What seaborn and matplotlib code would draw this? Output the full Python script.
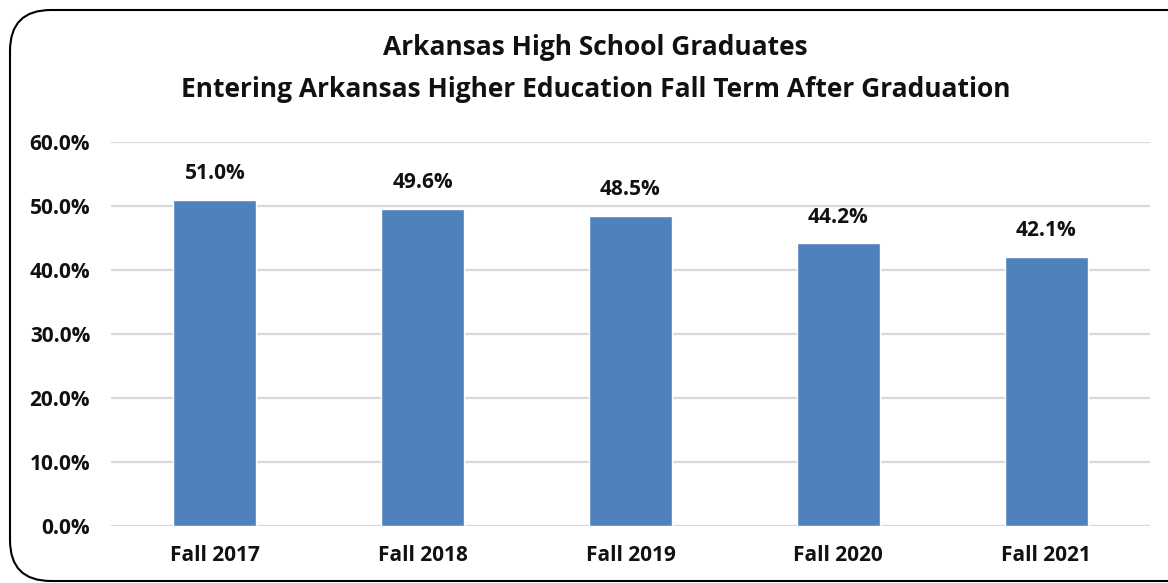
import matplotlib.pyplot as plt
import seaborn as sns
from matplotlib.patches import FancyBboxPatch
from matplotlib.ticker import FuncFormatter

# ---- data ----
terms = ["Fall 2017", "Fall 2018", "Fall 2019", "Fall 2020", "Fall 2021"]
rates = [51.0, 49.6, 48.5, 44.2, 42.1]
yticks = [0, 10, 20, 30, 40, 50, 60]

BAR_COLOR = "#4F81BD"
GRID_COLOR = "#D9D9D9"
TEXT = "#111111"

sns.set_theme(style="white")
plt.rcParams["font.family"] = ["Open Sans", "DejaVu Sans"]

fig = plt.figure(figsize=(11.68, 5.83), dpi=100)
ax = fig.add_axes([0.095, 0.0978, 0.8896, 0.6586])

sns.barplot(x=terms, y=rates, color=BAR_COLOR, width=0.4, saturation=1, ax=ax, zorder=3)

ax.set_ylim(0, 60)
ax.set_xlim(-0.5, 4.5)
ax.set_yticks(yticks)
ax.yaxis.set_major_formatter(FuncFormatter(lambda v, _: f"{v:.1f}%"))
ax.grid(axis="y", color=GRID_COLOR, linewidth=1.6, zorder=0)
ax.set_axisbelow(True)
for s in ax.spines.values():
    s.set_visible(False)
ax.tick_params(axis="y", length=0, pad=15, labelsize=15)
ax.tick_params(axis="x", length=0, pad=14, labelsize=15)
for lab in ax.get_xticklabels() + ax.get_yticklabels():
    lab.set_fontweight("bold")
    lab.set_color(TEXT)
ax.set_xlabel("")
ax.set_ylabel("")

for i, v in enumerate(rates):
    ax.text(i, v + 2.4, f"{v:.1f}%", ha="center", va="bottom",
            fontsize=15, fontweight="bold", color=TEXT)

fig.text(0.51, 0.918, "Arkansas High School Graduates", ha="center", va="center",
         fontsize=19, fontweight="bold", color=TEXT)
fig.text(0.51, 0.846, "Entering Arkansas Higher Education Fall Term After Graduation",
         ha="center", va="center", fontsize=19, fontweight="bold", color=TEXT)

# rounded chart border (runs off the right edge like the original)
box = FancyBboxPatch((10 / 1168, 2 / 583), 1.1, 571 / 583,
                     boxstyle="round,pad=0,rounding_size=0.035",
                     transform=fig.transFigure, fill=False, edgecolor="black",
                     linewidth=1.5, mutation_aspect=1168 / 583)
fig.patches.append(box)

fig.savefig("out.png", dpi=100, facecolor="white")
